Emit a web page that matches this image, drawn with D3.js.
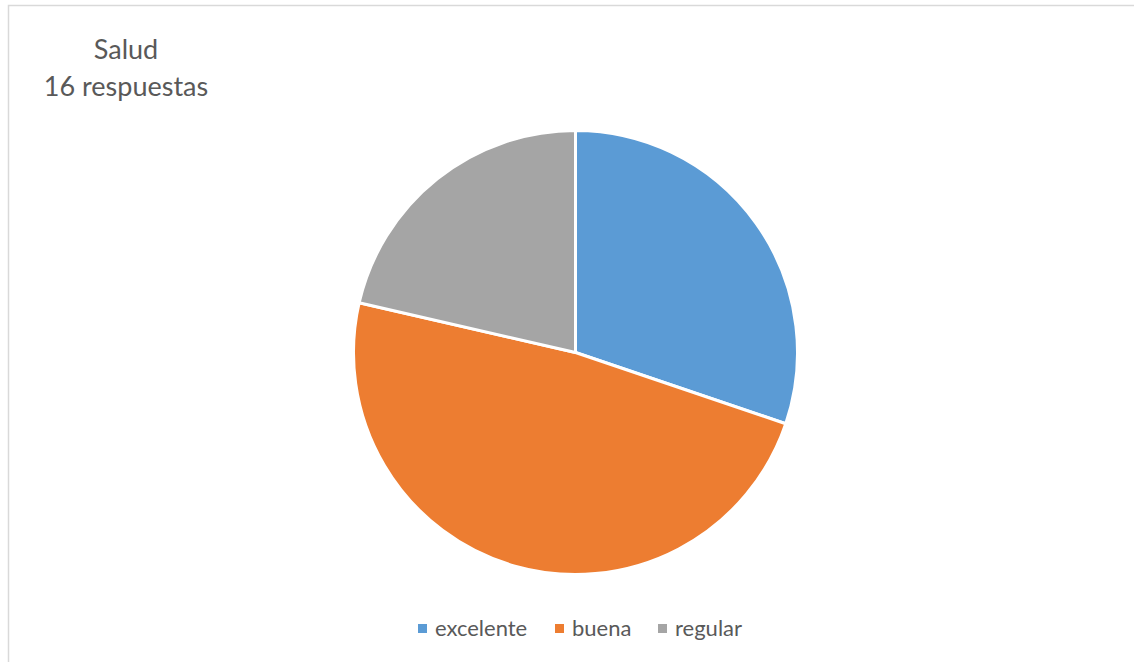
<!DOCTYPE html>
<html>
<head>
<meta charset="utf-8">
<script src="https://cdn.jsdelivr.net/npm/d3@7"></script>
<style>
  html, body { margin: 0; padding: 0; background: #fff; }
  svg { display: block; }
</style>
</head>
<body>
<svg id="chart" width="1134" height="662"></svg>
<script>
// Survey answers on health
const categories = ["excelente", "buena", "regular"];
const shares = [30.2, 48.4, 21.4];
const colors = ["#5B9BD5", "#ED7D31", "#A5A5A5"];
const titleLines = ["Salud", "16 respuestas"];

const svg = d3.select("#chart");
const font = "Lato, 'Open Sans', sans-serif";

// chart frame
svg.append("rect")
  .attr("x", 8.5).attr("y", 5.5)
  .attr("width", 1140).attr("height", 700)
  .attr("fill", "#fff")
  .attr("stroke", "#D9D9D9")
  .attr("stroke-width", 1.5);

// title
svg.append("g").selectAll("text")
  .data(titleLines)
  .join("text")
  .attr("x", 126)
  .attr("y", (d, i) => 59 + i * 37)
  .attr("text-anchor", "middle")
  .attr("font-family", font)
  .attr("font-size", 27)
  .attr("fill", "#595959")
  .text(d => d);

// pie
const cx = 575.5, cy = 352.5, radius = 222;
const pie = d3.pie().sort(null).value(d => d.v);
const arc = d3.arc().innerRadius(0).outerRadius(radius);
const data = categories.map((c, i) => ({ c, v: shares[i], color: colors[i] }));

svg.append("g")
  .attr("transform", `translate(${cx},${cy})`)
  .selectAll("path")
  .data(pie(data))
  .join("path")
  .attr("d", arc)
  .attr("fill", d => d.data.color)
  .attr("stroke", "#fff")
  .attr("stroke-width", 3)
  .attr("stroke-linejoin", "round");

// legend
const legendX = [418, 555, 658];
const legend = svg.append("g").selectAll("g")
  .data(data)
  .join("g")
  .attr("transform", (d, i) => `translate(${legendX[i]},624)`);
legend.append("rect")
  .attr("width", 9).attr("height", 9)
  .attr("fill", d => d.color);
legend.append("text")
  .attr("x", 17).attr("y", 12)
  .attr("font-family", font)
  .attr("font-size", 22)
  .attr("fill", "#595959")
  .text(d => d.c);
</script>
</body>
</html>
